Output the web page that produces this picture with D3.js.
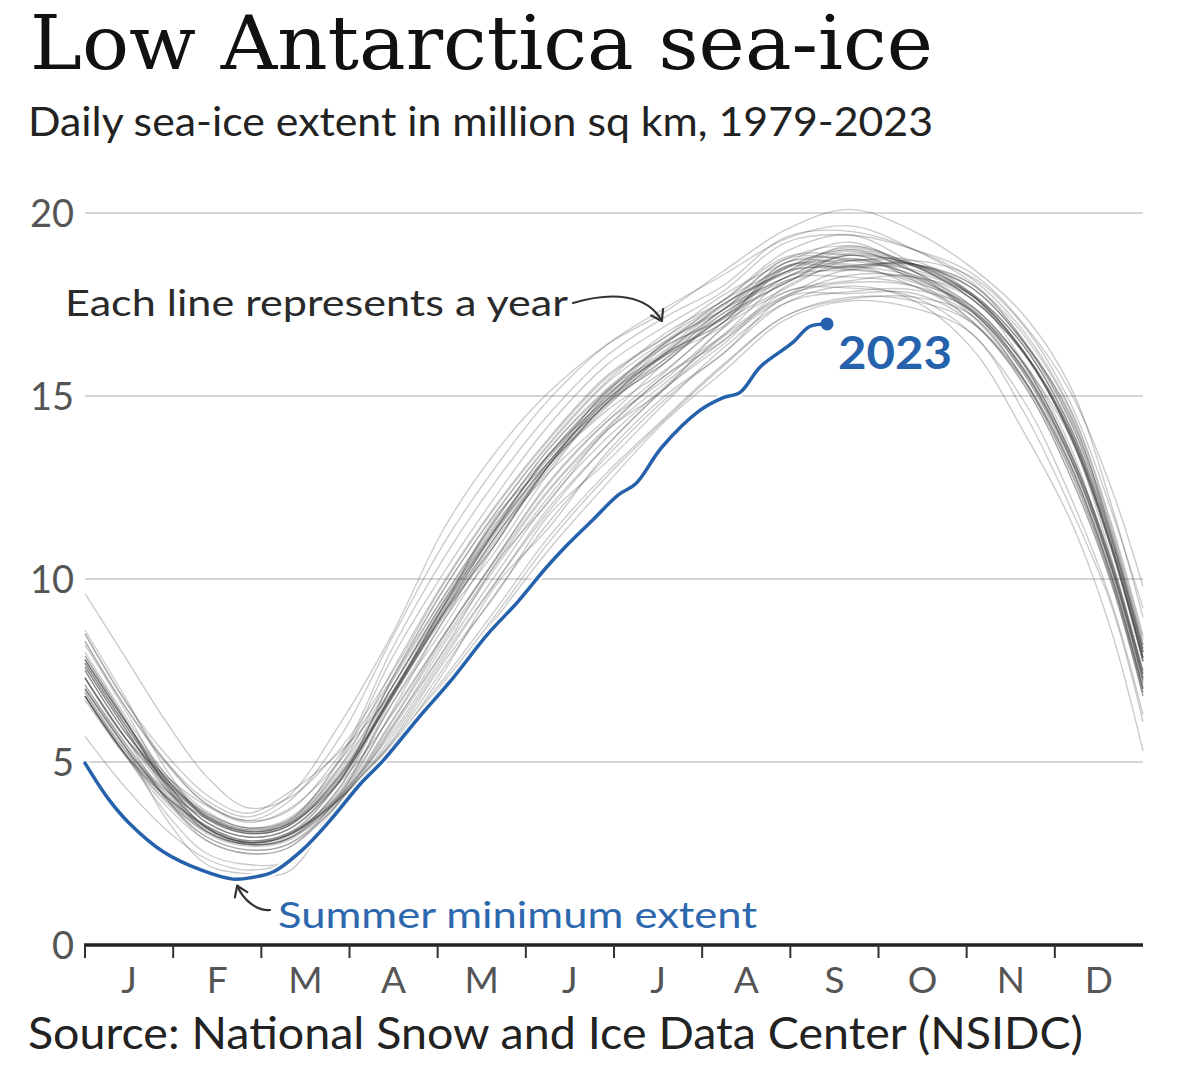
<!DOCTYPE html>
<html><head><meta charset="utf-8">
<script src="https://cdn.jsdelivr.net/npm/d3@7"></script>
<style>
html,body{margin:0;padding:0;background:#fff;}
svg{display:block;}
</style></head>
<body><svg id="chart" width="1200" height="1092"></svg>
<script>
// ---- DATA (million sq km) ----
const sampleDays = [0,14,28,42,56,70,88,106,124,142,160,180,200,220,242,264,286,306,324,340,354,365];
const years = [1979,1980,1981,1982,1983,1984,1985,1986,1987,1988,1989,1990,1991,1992,1993,1994,1995,1996,1997,1998,1999,2000,2001,2002,2003,2004,2005,2006,2007,2008,2009,2010,2011,2012,2013,2014,2015,2016,2017,2018,2019,2020,2021,2022];
const y1979 = [7.3,5.65,4.45,3.6,3.2,3.4,4.8,7.05,9.45,11.55,13.3,15.1,16.35,17.15,18.5,19.0,18.55,17.75,16.2,14.05,10.95,7.85];
const y1980 = [8.3,6.5,4.95,3.85,3.4,3.65,5.2,7.3,9.75,11.85,13.65,15.35,16.5,17.5,18.4,19.1,18.55,17.65,16.15,13.9,10.85,7.75];
const y1981 = [7.0,5.4,4.05,3.1,2.75,2.9,4.32,7.05,9.3,11.7,13.4,14.95,16.45,17.35,18.25,18.7,18.6,17.95,16.45,14.3,11.2,8.1];
const y1982 = [7.8,6.1,4.55,3.5,3.1,3.3,4.64,6.85,9.3,11.4,13.2,14.9,16.15,17.35,18.4,18.55,18.6,17.95,16.45,14.5,11.2,8.0];
const y1983 = [7.6,5.9,4.4,3.35,2.95,3.15,4.48,6.9,9.15,11.4,13.35,14.75,16.0,17.15,18.65,18.75,18.4,17.35,15.9,13.6,10.35,7.5];
const y1984 = [7.1,5.5,4.0,2.95,2.6,2.75,3.9,5.9,8.05,10.15,12.15,13.85,15.25,16.65,17.75,18.1,18.0,17.3,15.6,13.25,10.25,7.15];
const y1985 = [6.8,5.2,3.95,3.1,2.75,2.9,4.16,6.6,8.9,11.2,12.9,14.4,15.9,17.15,18.1,18.85,18.25,17.35,15.7,13.3,10.35,7.25];
const y1986 = [7.1,5.5,4.15,3.2,2.8,3.0,4.08,6.15,8.45,10.55,12.45,14.15,15.55,16.65,18.15,18.25,18.0,17.05,15.4,12.95,10.0,6.9];
const y1987 = [6.8,5.2,4.05,3.25,2.85,3.05,4.0,5.7,7.85,9.95,11.95,13.65,15.2,16.5,17.7,18.3,18.25,17.75,16.2,14.0,10.95,7.85];
const y1988 = [7.8,6.1,4.55,3.45,3.05,3.25,4.56,6.8,9.1,11.2,13.1,14.8,16.35,17.1,18.55,18.55,18.25,17.3,15.75,13.4,10.4,7.3];
const y1989 = [7.0,5.4,4.0,3.05,2.7,2.85,4.0,5.45,7.48,9.86,11.4,13.45,15.0,16.15,17.7,17.8,17.8,17.0,15.3,12.8,9.9,6.8];
const y1990 = [6.8,5.2,4.05,3.25,2.85,3.05,4.16,6.35,8.5,10.6,12.6,14.3,15.65,17.0,17.95,18.7,18.3,17.65,16.15,13.9,10.85,7.75];
const y1991 = [7.6,5.9,4.3,3.2,2.8,3.0,4.24,6.6,8.7,11.0,13.1,14.6,15.7,17.0,18.4,18.45,18.15,17.3,15.6,13.15,10.15,7.05];
const y1992 = [6.8,5.2,3.9,2.95,2.6,2.75,4.05,6.4,8.9,10.8,12.9,14.8,15.9,17.15,18.1,18.75,18.2,17.4,15.7,13.35,10.4,7.3];
const y1993 = [6.7,5.15,3.8,2.85,2.5,2.65,3.95,5.95,8.25,10.35,12.25,14.05,15.35,16.6,17.75,18.45,18.1,17.45,15.85,13.45,10.5,7.4];
const y1994 = [7.3,5.65,4.25,3.25,2.85,3.05,4.48,7.25,9.55,11.65,13.55,15.15,16.45,17.45,18.75,19.1,18.6,17.95,16.45,14.3,11.2,8.1];
const y1995 = [7.7,6.0,4.45,3.35,2.95,3.15,4.5,6.9,9.3,11.75,13.2,15.15,16.15,17.5,18.4,19.0,18.4,17.75,15.9,13.85,10.6,7.5];
const y1996 = [7.3,5.65,4.4,3.5,3.1,3.3,4.45,6.3,8.5,10.6,12.65,14.3,15.45,16.85,18.25,18.45,18.55,17.8,16.35,14.15,11.1,8.0];
const y1997 = [7.9,6.15,4.35,3.1,2.75,2.9,4.0,6.1,8.35,10.45,12.4,14.1,15.55,16.5,18.0,18.55,18.0,17.2,15.45,13.1,10.1,7.0];
const y1998 = [7.0,5.4,4.1,3.2,2.8,3.0,4.5,7.3,9.75,11.85,13.7,15.4,16.7,17.6,18.8,18.85,18.6,17.75,16.2,14.0,10.95,7.85];
const y1999 = [7.7,6.0,4.55,3.55,3.15,3.35,4.72,6.85,9.25,11.4,13.2,14.9,16.2,17.35,18.55,18.7,18.7,17.8,16.35,14.1,11.1,8.0];
const y2000 = [8.0,6.25,4.65,3.5,3.1,3.3,4.64,6.75,9.1,11.2,13.1,15.0,16.1,17.1,18.1,18.85,18.15,17.05,15.4,12.95,10.0,6.9];
const y2001 = [6.9,5.3,4.25,3.45,3.05,3.25,4.56,6.8,9.0,11.1,13.0,14.8,15.9,17.25,18.15,18.55,18.6,18.05,16.5,14.45,11.3,8.2];
const y2002 = [8.2,6.4,4.5,3.2,2.8,3.0,4.0,5.5,7.2,9.05,11.0,12.8,14.35,15.8,17.2,17.65,17.7,17.2,15.45,13.1,10.1,7.0];
const y2003 = [7.3,5.65,4.6,3.8,3.35,3.7,5.04,7.2,9.55,11.65,13.55,15.2,16.4,17.6,18.5,19.05,18.55,17.65,16.15,13.9,10.85,7.75];
const y2004 = [7.8,6.1,4.65,3.65,3.2,3.45,4.88,7.05,9.4,11.5,13.4,15.1,16.45,17.35,18.75,18.7,18.3,17.3,15.65,13.3,10.3,7.2];
const y2005 = [6.8,5.2,4.2,3.45,3.05,3.25,4.62,6.85,9.2,11.3,13.15,14.7,16.15,17.0,18.65,18.6,18.45,17.75,16.2,13.95,10.95,7.85];
const y2006 = [7.3,5.65,4.0,2.85,2.5,2.65,4.1,6.75,9.1,11.0,13.1,14.8,16.1,17.25,18.25,18.85,18.6,18.05,16.5,14.4,11.35,8.2];
const y2007 = [7.5,5.8,4.45,3.5,3.1,3.3,4.88,7.5,9.95,12.05,13.85,15.55,16.6,17.6,18.95,19.4,18.6,17.65,16.15,13.9,10.85,7.75];
const y2008 = [8.5,6.65,5.2,4.1,3.6,4.15,5.28,6.9,9.3,11.35,13.2,14.85,16.15,17.0,18.55,18.5,18.7,18.25,16.9,14.8,11.9,9.2];
const y2009 = [8.6,6.75,4.8,3.45,3.05,3.25,4.66,7.05,9.4,11.45,13.4,15.05,16.25,17.5,18.35,18.95,18.4,17.45,15.85,13.45,10.5,7.4];
const y2010 = [7.5,5.8,4.55,3.6,3.2,3.4,5.04,7.85,10.2,12.3,14.2,15.85,16.9,17.85,19.2,19.4,19.0,18.35,16.95,15.1,12.5,9.8];
const y2011 = [7.8,6.1,4.35,3.2,2.8,3.0,4.02,6.0,8.1,10.45,12.1,14.05,15.2,16.85,17.85,18.15,18.25,17.45,15.85,13.45,10.5,7.4];
const y2012 = [7.5,5.8,4.5,3.55,3.15,3.35,5.12,8.1,10.6,12.7,14.5,16.1,17.15,18.0,19.35,19.5,19.0,18.2,16.75,14.65,11.55,8.45];
const y2013 = [8.5,6.65,5.0,3.85,3.4,3.9,5.68,8.4,11.0,13.1,14.9,16.4,17.4,18.3,19.3,19.65,19.0,18.1,16.65,14.6,11.45,8.35];
const y2014 = [8.3,6.5,5.0,3.95,3.5,4.05,6.05,8.5,11.4,13.5,15.1,16.4,17.3,18.4,19.55,20.1,19.5,18.5,17.2,15.25,12.05,8.95];
const y2015 = [9.6,7.85,6.1,4.6,3.75,4.0,5.36,7.45,9.9,12.0,13.8,15.5,16.6,17.75,18.65,19.2,18.4,17.2,15.45,13.05,10.1,7.0];
const y2016 = [7.6,5.9,4.25,3.1,2.75,2.9,4.05,5.55,7.6,9.65,11.55,13.35,14.9,16.15,17.55,18.0,17.6,16.3,14.0,11.6,8.6,5.3];
const y2017 = [5.7,4.3,3.15,2.35,2.05,2.3,3.85,5.5,7.3,9.2,11.15,12.9,14.4,15.85,17.2,17.7,17.6,17.0,15.3,12.8,9.9,6.8];
const y2018 = [6.8,5.2,3.6,2.5,2.2,2.3,3.95,5.6,7.75,9.6,11.75,13.2,14.8,16.3,17.55,17.85,17.9,17.35,15.7,13.3,10.35,7.25];
const y2019 = [7.9,6.15,4.4,3.2,2.8,3.0,4.1,5.8,7.95,9.95,11.85,13.65,15.2,16.4,17.85,17.95,17.7,16.7,14.85,12.25,9.4,6.3];
const y2020 = [6.9,5.3,4.05,3.15,2.75,2.95,4.32,6.85,9.1,11.4,13.4,14.9,16.0,17.35,18.25,18.9,18.55,17.8,16.35,14.15,11.1,8.0];
const y2021 = [7.7,6.0,4.45,3.35,2.95,3.15,4.5,6.8,9.05,11.0,13.1,15.0,16.1,16.9,18.5,18.5,18.6,17.75,16.2,14.0,10.95,7.85];
const y2022 = [7.0,5.4,3.45,2.2,1.95,2.0,3.9,5.45,7.1,8.95,10.8,12.6,14.3,15.65,17.1,17.6,17.4,16.7,14.55,11.95,9.3,6.1];
const pastSeries = [y1979,y1980,y1981,y1982,y1983,y1984,y1985,y1986,y1987,y1988,y1989,y1990,y1991,y1992,y1993,y1994,y1995,y1996,y1997,y1998,y1999,y2000,y2001,y2002,y2003,y2004,y2005,y2006,y2007,y2008,y2009,y2010,y2011,y2012,y2013,y2014,y2015,y2016,y2017,y2018,y2019,y2020,y2021,y2022];

const days2023 = [0,8,15,27,40,51,58,65,75,84,95,103,115,126,139,149,159,166,175,184,190,199,212,220,226,233,244,250,256];
const ext2023  = [4.97,4.0,3.35,2.55,2.05,1.8,1.85,2.0,2.6,3.35,4.4,5.05,6.2,7.2,8.5,9.35,10.3,10.9,11.6,12.3,12.6,13.6,14.6,14.95,15.1,15.8,16.45,16.9,16.97];

const monthLabels = ["J","F","M","A","M","J","J","A","S","O","N","D"];
const yTicks = [0,5,10,15,20];

// ---- CHART ----
const svg = d3.select("#chart");
const SANS = "Lato, 'Open Sans', sans-serif";
const BLUE = "#2562ab";

const x = d3.scaleLinear().domain([0,365]).range([85,1143]);
const y = d3.scaleLinear().domain([0,20]).range([945,213]);

function fit(sel, w){
  const n = sel.node().getComputedTextLength();
  if (Math.abs(n - w) > 2) sel.attr("textLength", w).attr("lengthAdjust","spacingAndGlyphs");
}

// titles
fit(svg.append("text").attr("x",30).attr("y",69)
  .style("font-family","'DejaVu Serif', serif").style("font-size","74px").attr("fill","#111")
  .text("Low Antarctica sea-ice"), 903);
fit(svg.append("text").attr("x",28).attr("y",136)
  .style("font-family",SANS).style("font-size","40px").attr("fill","#222")
  .text("Daily sea-ice extent in million sq km, 1979-2023"), 905);

// gridlines
svg.append("g").selectAll("line").data(yTicks.filter(d=>d>0)).join("line")
  .attr("x1",x(0)).attr("x2",x(365)).attr("y1",d=>y(d)).attr("y2",d=>y(d))
  .attr("stroke","#d6d6d6").attr("stroke-width",2);

// y labels
svg.append("g").selectAll("text").data(yTicks).join("text")
  .attr("x",74).attr("y",d=>y(d)).attr("dy","0.36em").attr("text-anchor","end")
  .style("font-family",SANS).style("font-size","38px").attr("fill","#555")
  .text(d=>d);

// past years
const line = d3.line().x((d,i)=>x(sampleDays[i])).y(d=>y(d)).curve(d3.curveCatmullRom.alpha(0.5));
svg.append("g").selectAll("path").data(pastSeries).join("path")
  .attr("d",line).attr("fill","none")
  .attr("stroke","#3c3c3c").attr("stroke-opacity",0.27).attr("stroke-width",1.35);

// 2023
const line23 = d3.line().x((d,i)=>x(days2023[i])).y(d=>y(d)).curve(d3.curveCatmullRom.alpha(0.5));
svg.append("path").attr("d",line23(ext2023)).attr("fill","none")
  .attr("stroke","#fff").attr("stroke-width",8).attr("stroke-linejoin","round").attr("stroke-opacity",0.85);
svg.append("path").attr("d",line23(ext2023)).attr("fill","none")
  .attr("stroke",BLUE).attr("stroke-width",3.5).attr("stroke-linejoin","round").attr("stroke-linecap","round");
svg.append("circle").attr("cx",x(days2023[days2023.length-1])).attr("cy",y(ext2023[ext2023.length-1]))
  .attr("r",6.5).attr("fill",BLUE);

// x axis
svg.append("line").attr("x1",x(0)-1).attr("x2",x(365)).attr("y1",y(0)).attr("y2",y(0))
  .attr("stroke","#222").attr("stroke-width",3.5);
svg.append("g").selectAll("line").data(d3.range(12)).join("line")
  .attr("x1",i=>x(i*365/12)).attr("x2",i=>x(i*365/12))
  .attr("y1",y(0)).attr("y2",y(0)+13)
  .attr("stroke","#333").attr("stroke-width",2);
svg.append("g").selectAll("text").data(monthLabels).join("text")
  .attr("x",(d,i)=>x((i+0.5)*365/12)).attr("y",993).attr("text-anchor","middle")
  .style("font-family",SANS).style("font-size","37px").attr("fill","#555")
  .text(d=>d);

// source
fit(svg.append("text").attr("x",28).attr("y",1049)
  .style("font-family",SANS).style("font-size","44px").attr("fill","#222")
  .text("Source: National Snow and Ice Data Center (NSIDC)"), 1055);

// annotations
function arrow(pathD, tipX, tipY, fromX, fromY, color){
  svg.append("path").attr("d",pathD).attr("fill","none").attr("stroke",color).attr("stroke-width",2.2).attr("stroke-linecap","round");
  const ang = Math.atan2(tipY-fromY, tipX-fromX);
  const L = 12, a = 0.6;
  const p1 = [tipX - L*Math.cos(ang-a), tipY - L*Math.sin(ang-a)];
  const p2 = [tipX - L*Math.cos(ang+a), tipY - L*Math.sin(ang+a)];
  svg.append("path").attr("d",`M${p1[0]},${p1[1]}L${tipX},${tipY}L${p2[0]},${p2[1]}`)
    .attr("fill","none").attr("stroke",color).attr("stroke-width",2.2).attr("stroke-linecap","round").attr("stroke-linejoin","round");
}

fit(svg.append("text").attr("x",65).attr("y",316)
  .style("font-family",SANS).style("font-size","37px").attr("fill","#2a2a2a")
  .text("Each line represents a year"), 503);
{
  const tx = x(199), ty = y(17.05);
  const sx = 573, sy = 303;
  arrow(`M${sx},${sy}C${sx+40},${sy-12} ${tx-14},${ty-26} ${tx},${ty}`, tx, ty, tx-14, ty-26, "#333");
}

fit(svg.append("text").attr("x",278).attr("y",928)
  .style("font-family",SANS).style("font-size","37px").attr("fill","#2d67ad")
  .text("Summer minimum extent"), 479);
{
  const tx = x(52.5), ty = y(1.62);
  const sx = 270, sy = 910;
  arrow(`M${sx},${sy}C${sx-14},${sy+1} ${tx+6},${ty+14} ${tx},${ty}`, tx, ty, tx+6, ty+14, "#333");
}

fit(svg.append("text").attr("x",838).attr("y",369)
  .style("font-family",SANS).style("font-size","45px").style("font-weight","bold").attr("fill",BLUE)
  .text("2023"), 114);
</script>
</body></html>
